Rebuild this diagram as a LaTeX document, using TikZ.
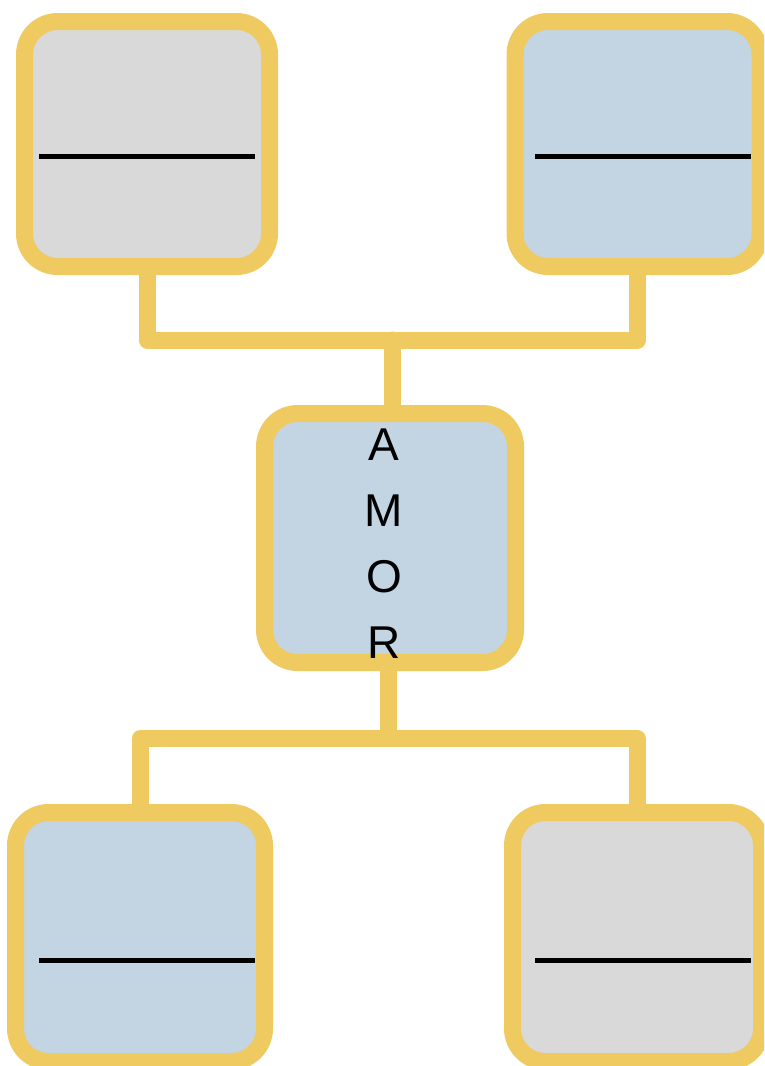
\documentclass[tikz,border=0pt]{standalone}
\usepackage{fontspec}
\setmainfont{Liberation Sans}
\usetikzlibrary{backgrounds}
\definecolor{gold}{RGB}{238,202,96}
\definecolor{paleblue}{RGB}{195,213,226}
\definecolor{palegray}{RGB}{217,217,217}
\begin{document}
\begin{tikzpicture}[x=1pt,y=-1pt,
  box/.style={draw=gold,line width=17pt,rounded corners=33pt,inner sep=0pt,
    minimum width=245pt,minimum height=245pt},
  bbox/.style={box,minimum width=249pt,minimum height=249pt},
  link/.style={draw=gold,line width=17pt,line join=round,line cap=round},
  rule/.style={draw=black,line width=5pt}]
\useasboundingbox (0,0) rectangle (764,1066);
\clip (0,0) rectangle (764,1066);
% boxes
\node[box,fill=palegray] (tl) at (147,144) {};
\node[box,fill=paleblue] (tr) at (637.5,144) {};
\node[box,fill=paleblue,minimum width=251pt,minimum height=249pt] (c) at (390,538) {};
\node[bbox,fill=paleblue] (bl) at (140,937) {};
\node[bbox,fill=palegray] (br) at (637,937) {};
% junctions
\coordinate (jt) at (392.5,340);
\coordinate (jb) at (388.5,738.5);
% connectors behind the boxes
\begin{scope}[on background layer]
\draw[link] (tl.south) |- (jt) -| (tr.south);
\draw[link] (jt) -- (jt |- c.north);
\draw[link] (jb |- c.south) -- (jb);
\draw[link] (bl.north) |- (jb) -| (br.north);
\end{scope}
% rules inside boxes
\draw[rule] (39,156) -- (255,156);
\draw[rule] (535,156) -- (751,156);
\draw[rule] (39,960) -- (255,960);
\draw[rule] (535,960) -- (751,960);
% label
\node[inner sep=0pt,align=center,font=\fontsize{46}{66}\selectfont] (lbl) at (384,543.5) {A\\M\\O\\R};
\end{tikzpicture}
\end{document}
